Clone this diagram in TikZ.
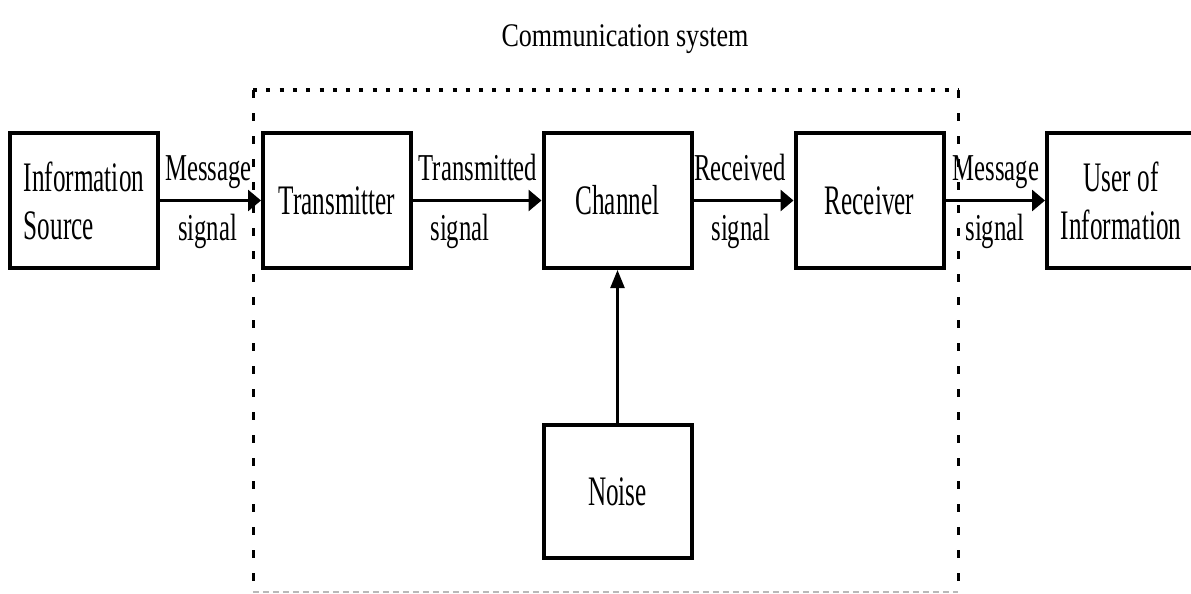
\documentclass[tikz,border=0pt]{standalone}
\usepackage{fontspec}
\setmainfont{Liberation Serif}
\newfontfamily\boxfont[FakeStretch=0.6]{Liberation Serif}
\newfontfamily\lblfont[FakeStretch=0.65]{Liberation Serif}
\newfontfamily\titlefont[FakeStretch=0.79]{Liberation Serif}
\usetikzlibrary{arrows.meta}
\tikzset{
  blk/.style={draw, line width=4pt, minimum width=148pt, minimum height=135pt,
    align=center, inner sep=0pt, font=\boxfont\fontsize{42}{48}\selectfont},
  lbl/.style={anchor=base, inner sep=0pt, font=\lblfont\fontsize{38}{44}\selectfont},
  arr/.style={line width=3pt, -{Triangle[length=13pt,width=21pt]}},
  narr/.style={line width=2.4pt, -{Triangle[length=18pt,width=14pt]}},
  topdash/.style={line width=4pt, dash pattern=on 4pt off 9.3pt},
  sidedash/.style={line width=3pt, dash pattern=on 8pt off 15pt},
  botdash/.style={line width=1.5pt, gray!55, dash pattern=on 6pt off 4pt},
}
\begin{document}
\begin{tikzpicture}[x=1pt,y=-1pt]
\useasboundingbox (0,0) rectangle (1191,594);
\fill[white] (0,0) rectangle (1191,594);
% dashed enclosure
\coordinate (dTL) at (253,90);
\coordinate (dTR) at (958,90);
\coordinate (dBL) at (253,592);
\coordinate (dBR) at (958,592);
\draw[topdash] (dTL) -- (dTR);
\draw[sidedash] (dTL) -- (dBL);
\draw[sidedash] (dTR) -- (dBR);
\draw[botdash] (dBL) -- (dBR);
% title
\node[anchor=base, inner sep=0pt, font=\titlefont\fontsize{33}{38}\selectfont] (title) at (625,47) {Communication system};
% boxes
\node[blk, align=left] (src) at (84,200.5) {Information\\Source};
\node[blk] (tx) at (337,200.5) {Transmitter};
\node[blk] (ch) at (617.5,200.5) {Channel};
\node[blk] (rx) at (869.5,200.5) {Receiver};
\node[blk] (usr) at (1121,200.5) {User of\\Information};
\node[blk, minimum height=133pt] (noise) at (617.5,491.5) {Noise};
% connectors
\draw[arr] (src.east) -- (tx.west);
\draw[arr] (tx.east) -- (ch.west);
\draw[arr] (ch.east) -- (rx.west);
\draw[arr] (rx.east) -- (usr.west);
\draw[narr] (noise.north) -- (ch.south);
% labels
\node[lbl] (m1a) at (208.5,180) {Message};
\node[lbl] (m1b) at (207.5,240) {signal};
\node[lbl] (t1a) at (478,180) {Transmitted};
\node[lbl] (t1b) at (460,240) {signal};
\node[lbl] (r1a) at (740,180) {Received};
\node[lbl] (r1b) at (741,240) {signal};
\node[lbl] (m2a) at (996,180) {Message};
\node[lbl] (m2b) at (995,240) {signal};
\end{tikzpicture}
\end{document}
